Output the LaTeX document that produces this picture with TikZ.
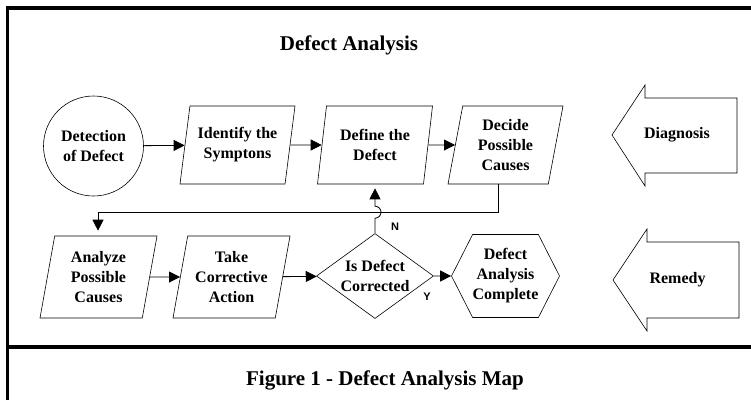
\documentclass[tikz,border=0pt]{standalone}
\usepackage{fontspec}
\setmainfont{Liberation Serif}
\newfontfamily\lblfont{Liberation Sans}
\usetikzlibrary{shapes.geometric,shapes.symbols,arrows.meta,calc}
\begin{document}
\begin{tikzpicture}[x=1pt,y=-1pt,
  txt/.style={font=\fontsize{16}{20}\selectfont\bfseries, align=center},
  outline/.style={draw, line width=0.6pt},
  para/.style={outline, txt, trapezium, trapezium left angle=74, trapezium right angle=106,
    trapezium stretches body, minimum width=115pt, minimum height=78pt, inner sep=0pt},
  paralow/.style={para, minimum width=117pt, minimum height=82pt},
  conn/.style={line width=0.8pt},
  arr/.style={conn, -{Triangle[length=11pt,width=11pt]}},
  yn/.style={font=\lblfont\fontsize{11}{13}\selectfont\bfseries},
  frame/.style={line width=3.5pt},
  big/.style={font=\fontsize{21}{25}\selectfont\bfseries}
]
\useasboundingbox (0,0) rectangle (751,400);
% frame
\draw[frame] (7.5,400) -- (7.5,8) -- (751,8);
\draw[line width=4pt] (7.5,347) -- (751,347);
% titles
\node[big, anchor=base] (title) at (349,50) {Defect Analysis};
\node[big, anchor=base] (caption) at (385,385) {Figure 1 - Defect Analysis Map};
% top row
\node[outline, txt, circle, minimum size=100pt, inner sep=0pt] (det) at (93.5,146) {Detection\\of Defect};
\node[para] (ident) at (237.5,145) {Identify the\\Symptons};
\node[para] (define) at (375,145) {Define the\\Defect};
\node[para] (decide) at (505.5,145) {Decide\\Possible\\Causes};
% bottom row
\node[paralow] (analyze) at (98.5,277) {Analyze\\Possible\\Causes};
\node[paralow] (take) at (231.5,277) {Take\\Corrective\\Action};
\node[outline, txt, diamond, aspect=1.38, minimum width=117pt, minimum height=85pt, inner sep=0pt] (dia) at (375,276) {Is Defect\\Corrected};
\node[outline, txt, signal, signal to=west and east, signal pointer angle=126,
  minimum width=103pt, minimum height=83pt, inner sep=0pt] (hex) at (505.5,276) {Defect\\Analysis\\Complete};
% block arrows
\draw[outline] (612,135) -- (645,85) -- (645,98) -- (737,98) -- (737,173) -- (645,173) -- (645,186) -- cycle;
\node[txt] (diag) at (677,135) {Diagnosis};
\draw[outline] (613,280) -- (647,229) -- (647,242) -- (739,242) -- (739,318) -- (647,318) -- (647,331) -- cycle;
\node[txt] (rem) at (677.5,280) {Remedy};
% connectors
\draw[arr] (det) -- (ident);
\draw[arr] (ident) -- (define);
\draw[arr] (define) -- (decide);
\coordinate (decB) at ($(decide.bottom left corner)!0.5!(decide.bottom right corner)$);
\coordinate (fbL) at (98,212);
\draw[arr, shorten >=5pt] (decB) |- (fbL) -- (fbL |- analyze.north);
\draw[arr] (analyze) -- (take);
\draw[arr] (take) -- (dia);
\draw[arr] (dia) -- (hex);
\draw[arr, shorten >=4pt] (dia.north) -- ++(0,-15) arc[start angle=90, end angle=-90, radius=6] -- (dia.north |- define.south);
\node[yn] (nlab) at (395,227) {N};
\node[yn] (ylab) at (427,297) {Y};
\end{tikzpicture}
\end{document}
